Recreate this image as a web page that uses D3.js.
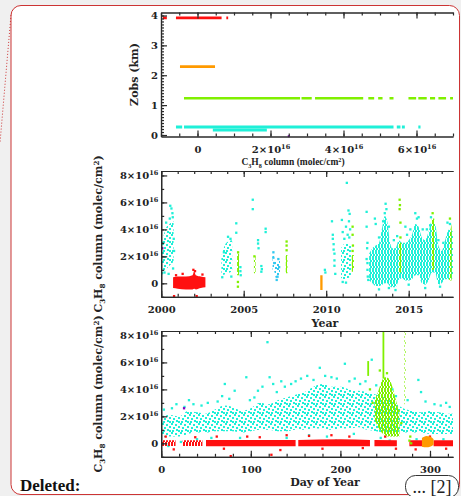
<!DOCTYPE html>
<html><head><meta charset="utf-8">
<script src="https://cdn.jsdelivr.net/npm/d3@7/dist/d3.min.js"></script>
<style>html,body{margin:0;padding:0;background:#f0f0f0;}svg{display:block;}</style>
</head><body>
<svg id="chart" width="461" height="496"></svg>
<script>
// ================= DATA (values in 1e16 molec/cm2, km, years, days) =================
// Panel 1 : rows of observations  [zobs km, column start, column end]
const p1Red    = [[3.92,-0.95,-0.84],[3.92,-0.59,0.66],[3.92,0.79,0.84]];
const p1Orange = [[2.29,-0.48,0.48]];
const p1Green  = [[1.23,-0.37,2.81],[1.23,2.85,3.13],[1.23,3.22,4.54],[1.23,4.68,4.84],[1.23,4.95,5.07],
                  [1.23,5.26,5.37],[1.23,5.78,5.99],[1.23,6.05,6.28],[1.23,6.37,6.51],[1.23,6.60,6.81],[1.23,6.92,7.0]];
const p1Cyan   = [[0.27,-0.59,-0.42],[0.27,-0.37,5.37],[0.17,0.42,1.9],[0.27,5.46,5.56],[0.27,5.6,5.68],[0.27,6.05,6.11]];
const p1Purple = [[2.5,-0.04]];   // [column, zobs]
const p1YTicks = [0,1,2,3,4];
const p1XTicks = [0,2,4,6];

// Panel 2 : column vs year.  clouds = [year, low, high], points = [year, value]
const p2RedCloud = [[2000.72,-0.35,0.45],[2001.0,-0.4,0.5],[2001.5,-0.45,0.5],[2001.9,-0.45,0.6],[2002.0,-0.4,0.9],[2002.1,-0.45,0.6],[2002.4,-0.35,0.5],[2002.68,-0.3,0.45]];
const p2RedPts = [[2000.78,-0.95],[2002.15,-0.95],[2001.95,1.0],[2002.05,0.9],[2001.3,0.7],[2000.9,0.6],[2002.5,0.65]];
const p2CyanClouds = [
  [[2000.0,0.9,2.6],[2000.25,1.0,4.0],[2000.5,1.3,4.4],[2000.75,1.6,4.6]],
  [[2003.65,0.6,2.0],[2003.95,0.7,3.0],[2004.3,0.9,3.2]],
  [[2010.9,0.4,2.6],[2011.2,0.3,3.0],[2011.5,0.6,2.8]],
  [[2012.6,0.2,2.2],[2012.8,0.0,2.6],[2013.0,-0.2,2.8],[2013.2,-0.2,3.0],[2013.4,-0.1,4.2],[2013.55,0.0,5.0],[2013.7,0.0,4.6],
   [2013.85,-0.2,3.2],[2014.0,-0.3,2.6],[2014.2,-0.3,2.6],[2014.4,0.2,3.2],[2014.6,0.4,3.0],[2014.8,0.2,3.0],[2015.0,0.2,3.2],
   [2015.2,0.3,3.6],[2015.4,0.6,4.4],[2015.6,0.6,4.2],[2015.8,0.0,3.4],[2016.0,-0.1,3.2],[2016.2,0.2,3.8],[2016.4,0.8,4.6],
   [2016.6,0.8,4.4],[2016.8,-0.1,2.8],[2017.0,0.0,2.4],[2017.2,0.3,3.2],[2017.45,0.3,4.0],[2017.7,0.4,3.8]]
];
const p2CyanPts = [[2000.05,0.75],[2000.12,3.0],[2000.2,0.8],[2000.3,4.5],[2000.45,0.7],[2000.52,4.8],[2000.55,5.75],[2000.62,5.55],
  [2000.68,5.2],[2000.7,4.9],[2000.72,1.1],[2000.78,2.4],[2000.76,3.3],
  [2003.7,0.45],[2003.8,2.3],[2004.05,3.45],[2004.2,3.3],[2004.25,0.5],[2004.55,4.45],[2004.55,3.75],[2004.8,1.2],[2004.8,0.9],[2004.82,0.6],
  [2005.55,6.2],[2005.55,5.5],[2005.87,3.2],[2005.87,2.95],[2005.9,2.6],[2006.07,1.28],[2006.07,0.86],[2006.1,1.05],[2006.33,4.05],[2006.33,3.8],
  [2009.92,1.0],[2009.95,0.8],
  [2010.35,4.6],[2010.4,3.6],[2010.4,3.3],[2010.45,2.9],[2010.45,2.5],[2010.5,2.2],[2010.5,1.7],[2010.5,1.3],[2010.55,0.7],
  [2010.95,4.7],[2011.0,3.8],[2011.1,3.3],[2011.2,4.2],[2011.25,7.45],[2011.3,3.6],[2011.35,5.4],[2011.42,5.15],[2011.45,4.0],[2011.4,3.4],
  [2011.0,0.1],[2011.2,0.05],[2011.38,4.6],
  [2012.45,5.3],[2012.45,4.2],[2012.5,3.0],[2012.48,2.6],[2012.45,1.8],[2012.5,1.5],[2012.5,1.0],[2012.52,0.5],[2012.55,0.25],
  [2012.95,4.8],[2013.0,4.4],[2013.2,3.4],[2013.2,-0.45],[2013.45,4.6],[2013.55,5.2],[2013.6,5.9],[2013.65,5.5],[2013.8,4.2],[2013.8,-0.35],
  [2014.1,3.2],[2014.2,-0.5],[2014.3,3.5],[2014.8,4.2],[2014.9,3.6],[2015.0,-0.1],[2015.1,4.0],[2015.4,5.2],[2015.5,4.8],[2015.6,4.9],
  [2015.85,4.0],[2016.0,-0.35],[2016.1,4.0],[2016.3,4.3],[2016.35,4.9],[2016.8,3.2],[2016.9,-0.25],[2017.1,3.0],[2017.35,4.5],[2017.5,4.4]];
const p2BlueCloud = [[2006.75,1.0,2.1],[2006.85,0.9,2.0],[2006.95,0.4,1.6],[2007.2,0.5,1.7]];
const p2BluePts = [[2006.8,2.3],[2006.8,1.9],[2006.85,1.5],[2007.0,0.25],[2007.05,0.5],[2007.1,1.8],[2007.15,1.2]];
const p2GreenClouds = [
  [[2004.6,0.6,2.2],[2004.72,0.6,2.2]], [[2005.62,0.75,2.0],[2005.72,0.75,2.0]], [[2007.55,0.75,2.1],[2007.65,0.75,2.1]],
  [[2011.55,0.86,2.1],[2011.68,0.86,2.1]], [[2014.42,0.8,3.0],[2014.55,0.8,3.0]], [[2016.4,1.0,4.8],[2016.55,1.0,4.8]],
  [[2017.45,0.2,3.5],[2017.6,0.2,4.4]]];
const p2GreenPts = [[2004.65,0.1],[2004.65,-0.25],[2004.66,2.3],[2005.65,2.0],[2007.6,3.1],[2007.6,2.8],[2007.6,2.45],[2011.6,4.2],
  [2011.6,3.6],[2011.62,2.8],[2011.6,2.4],[2014.45,6.2],[2014.47,5.8],[2014.45,5.5],[2014.5,4.5],[2014.5,3.4],[2016.45,5.2],[2017.5,4.8]];
const p2OrangeCloud = [[2009.64,-0.5,0.6],[2009.78,-0.5,0.6]];
const p2PurplePts = [[2000.07,2.6]];
const yearTicks = [2000,2005,2010,2015];
const colTicks = [0,2,4,6,8];

// Panel 3 : column vs day of year.  clouds = [day, low, high], points = [day, value]
const p3CyanCloud = [[0,0.4,2.0],[10,0.5,2.1],[20,0.5,2.0],[30,0.7,2.4],[40,0.8,2.3],[50,0.8,2.2],[60,0.9,2.5],[70,0.9,2.8],
  [80,0.9,2.7],[90,0.8,2.4],[100,0.9,2.6],[110,1.0,3.0],[120,1.0,2.9],[130,0.9,3.2],[140,0.9,3.4],[150,1.0,3.6],[160,1.0,3.8],
  [170,1.1,4.2],[180,1.1,4.4],[190,1.0,4.2],[200,1.1,4.2],[210,1.1,4.0],[220,1.2,3.9],[230,1.0,3.8],[240,0.9,3.6],[250,0.8,3.4],
  [260,0.8,3.0],[270,0.8,2.6],[280,0.8,2.4],[290,0.8,2.3],[300,0.7,2.4],[310,0.7,2.3],[320,0.7,2.2],[326,0.7,2.2]];
const p3CyanPts = [[3,2.5],[8,-0.2],[12,2.6],[17,2.9],[22,0.1],[26,2.7],[31,3.2],[36,2.9],[40,0.3],[45,2.8],[52,3.0],[56,0.4],
  [63,3.1],[68,3.5],[71,4.4],[76,3.3],[82,3.9],[88,0.4],[95,4.9],[99,3.2],[104,3.4],[108,3.9],[113,4.2],[118.6,7.5],[121,4.9],
  [125,4.4],[129,3.8],[134,4.6],[138,4.2],[145,4.4],[150,4.6],[156,4.8],[163,5.0],[170,4.7],[177,5.6],[183,5.0],[190,4.9],
  [196,4.8],[205,5.9],[210,4.6],[216,4.8],[222,4.4],[228,4.6],[235,6.2],[240,4.3],[258,4.0],[262,3.5],[275,3.2],[287,4.7],
  [290,3.8],[295,3.1],[305,2.9],[312,2.8],[318,3.0],[322,2.7],[140,0.4],[165,0.6],[185,0.5],[215,0.7],[245,0.4],[255,0.2],
  [285,0.3],[300,0.2],[315,0.3],[175,-0.1],[195,0.2]];
const p3RedBands = [
  [[0,-0.2,0.22],[16,-0.2,0.22]], [[24,-0.2,0.22],[46,-0.2,0.22]], [[50,-0.22,0.25],[100,-0.22,0.25],[150,-0.22,0.25]],
  [[153,-0.22,0.25],[200,-0.22,0.3],[233,-0.22,0.25]], [[238,-0.22,0.25],[263,-0.22,0.22]], [[277,-0.22,0.22],[296,-0.22,0.22]],
  [[304,-0.22,0.22],[326,-0.22,0.22]]];
const p3RedPts = [[77.6,-0.95],[123,-0.85],[5,0.5],[14,-0.45],[38,0.45],[62,0.5],[96,0.5],[140,0.6],[165,0.55],[190,0.6],
  [210,0.5],[250,0.5],[284,-0.45],[300,0.5],[318,-0.4],[262,-0.4],[133,-0.5],[70,-0.4],[110,0.45],[180,-0.4],[225,-0.35]];
const p3GreenCloud = [[238,1.8,3.2],[242,1.2,3.8],[246,0.8,4.6],[250,0.6,4.9],[254,0.5,4.8],[258,0.5,4.2],[262,0.5,3.2],[266,0.5,2.2]];
const p3GreenColumns = [[247,249,4.8,8.4],[230,232,5.0,6.1]];
const p3GreenDotted = [[271.5,272.8,2.9,8.4]];
const p3GreenPts = [[278,0.5],[277,0.2],[279,0.0],[236,3.0],[233,4.0],[265,2.4],[268,1.5],[244,5.4],[252,5.2]];
const p3OrangeCloud = [[291,-0.25,0.4],[296,-0.3,0.55],[300,-0.25,0.5],[304,-0.1,0.3]];
const p3PurplePts = [[25.5,2.6]];
const dayTicks = [0,100,200,300];

// ================= STYLE =================
const C = {red:'#ff1010', orange:'#ff9a00', green:'#80f000', cyan:'#1ff0d8', blue:'#30c8f0', purple:'#8a00c8', axis:'#2a2a2a'};
const SERIF = "'DejaVu Serif', serif";
const svg = d3.select('#chart');
const defs = svg.append('defs');
const tiles = {
  sparse: {size: 9, dots: [[0,0],[4,1],[7,3],[2,4],[5,6],[1,7],[7,7]]},
  dense:  {size: 6, dots: [[0,0],[3,0],[1,2],[4,2],[0,4],[3,4]]}
};
Object.entries(C).forEach(([k, col]) => Object.entries(tiles).forEach(([tn, t]) => {
  const p = defs.append('pattern').attr('id', `pat-${tn}-${k}`).attr('width', t.size).attr('height', t.size).attr('patternUnits', 'userSpaceOnUse');
  t.dots.forEach(([a, b]) => p.append('rect').attr('x', a).attr('y', b).attr('width', 2).attr('height', 2).attr('fill', col));
}));
const pat = (t, k) => `url(#pat-${t}-${k})`;

// ---------- frame ----------
svg.append('rect').attr('width',461).attr('height',496).attr('fill','#f0f0f0');
svg.append('rect').attr('x',11).attr('y',5.5).attr('width',448.5).attr('height',489).attr('rx',10)
   .attr('fill','#fff').attr('stroke','#cc3434').attr('stroke-width',1);
svg.append('line').attr('x1',11).attr('y1',15).attr('x2',0).attr('y2',143)
   .attr('stroke','#cc3434').attr('stroke-dasharray','1,2').attr('stroke-width',1);

// ---------- helpers ----------
let clipN = 0;
function makePanel(xd, xr, yd, yr) {
  const x = d3.scaleLinear().domain(xd).range(xr);
  const y = d3.scaleLinear().domain(yd).range(yr);
  const id = 'clip' + (clipN++);
  defs.append('clipPath').attr('id', id).append('rect')
    .attr('x', xr[0]).attr('y', yr[1] - 2).attr('width', xr[1]-xr[0]).attr('height', yr[0]-yr[1] + 4);
  const g = svg.append('g');
  const plot = g.append('g').attr('clip-path', `url(#${id})`);
  return {x, y, g, plot};
}
function cloud(P, data, fill) {
  const a = d3.area().x(d => P.x(d[0])).y0(d => P.y(d[1])).y1(d => P.y(d[2])).curve(d3.curveMonotoneX);
  P.plot.append('path').datum(data).attr('d', a).attr('fill', fill);
}
function pts(P, data, col, s=2.3) {
  P.plot.append('g').selectAll('rect').data(data).join('rect')
    .attr('x', d => P.x(d[0]) - s/2).attr('y', d => P.y(d[1]) - s/2).attr('width', s).attr('height', s).attr('fill', col);
}
function boxes(P, data, fill) {
  P.plot.append('g').selectAll('rect').data(data).join('rect')
    .attr('x', d => P.x(d[0])).attr('width', d => P.x(d[1]) - P.x(d[0]))
    .attr('y', d => P.y(Math.min(d[3], P.y.domain()[1]))).attr('height', d => P.y(d[2]) - P.y(Math.min(d[3], P.y.domain()[1]))).attr('fill', fill);
}
function sci(sel) {
  sel.each(function(d) {
    const t = d3.select(this);
    if (d === 0) { t.text('0'); return; }
    t.text(null);
    t.append('tspan').text(d + '×10');
    t.append('tspan').attr('dy', -4).attr('font-size', 6.5).text('16');
  });
}
function axisGroup(parent, axis) {
  const g = parent.append('g').call(axis);
  g.attr('font-family', SERIF).attr('font-size', 10).attr('font-weight', 'bold');
  g.selectAll('path,line').attr('stroke', C.axis).attr('stroke-width', 1.2);
  g.selectAll('text').attr('fill', '#222');
  return g;
}
function axes(P, o) {
  const [x0, x1] = P.x.range(), [yb, yt] = P.y.range();
  const b = P.g.append('g').attr('transform', `translate(0,${yb})`);
  axisGroup(b, d3.axisBottom(P.x).tickValues(o.xMinor).tickSize(-3).tickSizeOuter(0).tickFormat(''));
  const bm = axisGroup(b, d3.axisBottom(P.x).tickValues(o.xMajor).tickSize(-6).tickSizeOuter(0).tickPadding(9).tickFormat(d3.format('d')));
  if (o.xSci) bm.selectAll('.tick text').call(sci);
  const t = P.g.append('g').attr('transform', `translate(0,${yt})`);
  axisGroup(t, d3.axisTop(P.x).tickValues(o.xMinor).tickSize(-3).tickSizeOuter(0).tickFormat(''));
  axisGroup(t, d3.axisTop(P.x).tickValues(o.xMajor).tickSize(-6).tickSizeOuter(0).tickFormat(''));
  const l = P.g.append('g').attr('transform', `translate(${x0},0)`);
  axisGroup(l, d3.axisLeft(P.y).tickValues(o.yMinor).tickSize(-3).tickSizeOuter(0).tickFormat(''));
  const lm = axisGroup(l, d3.axisLeft(P.y).tickValues(o.yMajor).tickSize(-6).tickSizeOuter(0).tickPadding(3).tickFormat(d3.format('d')));
  if (o.ySci) lm.selectAll('.tick text').call(sci);
}
function chemTitle(sel, size) {
  sel.append('tspan').text('C');
  sel.append('tspan').attr('dy', 2.5).attr('font-size', size*0.65).text('3');
  sel.append('tspan').attr('dy', -2.5).text('H');
  sel.append('tspan').attr('dy', 2.5).attr('font-size', size*0.65).text('8');
  sel.append('tspan').attr('dy', -2.5).text(' column (molec/cm');
  sel.append('tspan').attr('dy', -3.5).attr('font-size', size*0.65).text('2');
  sel.append('tspan').attr('dy', 3.5).text(')');
}
function title(x, y, rot, size, weight, family) {
  return svg.append('text').attr('transform', `translate(${x},${y}) rotate(${rot})`)
    .attr('text-anchor', 'middle').attr('font-family', family || SERIF).attr('font-size', size)
    .attr('font-weight', weight).attr('fill', '#222');
}

// ================= PANEL 1 =================
const P1 = makePanel([-1, 7], [161, 453], [-0.05, 4.1], [136.5, 12.5]);
function rows(data, col, w) {
  P1.plot.append('g').selectAll('line').data(data).join('line')
    .attr('x1', d => P1.x(d[1])).attr('x2', d => P1.x(d[2])).attr('y1', d => P1.y(d[0])).attr('y2', d => P1.y(d[0]))
    .attr('stroke', col).attr('stroke-width', w);
}
rows(p1Cyan, C.cyan, 3); rows(p1Green, C.green, 2.6); rows(p1Orange, C.orange, 2.6); rows(p1Red, C.red, 2.8);
pts(P1, p1Purple, C.purple, 2);
axes(P1, {xMinor: d3.range(-1, 7.01, 0.5), xMajor: p1XTicks, xSci: true,
          yMinor: d3.range(0, 4.05, 0.1), yMajor: p1YTicks});
title(138, 74.5, -90, 11, 'bold').text('Zobs (km)');
title(293, 165, 0, 9.5, 'bold', "'Liberation Serif', serif").call(chemTitle, 9.5);

// ================= PANEL 2 =================
const P2 = makePanel([2000, 2000 + (453 - 161.2) / 16.5], [161.2, 453], [-1, 8.33], [296.8, 171]);
p2CyanClouds.forEach((c, i) => cloud(P2, c, i === 3 ? pat('dense', 'cyan') : pat('sparse', 'cyan')));
pts(P2, p2CyanPts, C.cyan);
cloud(P2, p2BlueCloud, pat('sparse', 'blue')); pts(P2, p2BluePts, C.blue);
p2GreenClouds.forEach(c => cloud(P2, c, pat('dense', 'green'))); pts(P2, p2GreenPts, C.green);
cloud(P2, p2OrangeCloud, C.orange);
cloud(P2, p2RedCloud, C.red); pts(P2, p2RedPts, C.red);
pts(P2, p2PurplePts, C.purple);
axes(P2, {xMinor: d3.range(2000, 2018, 1), xMajor: yearTicks, yMinor: d3.range(-1, 8.1, 1), yMajor: colTicks, ySci: true});
title(102, 234, -90, 11, 'bold').call(chemTitle, 11);
title(325, 327, 0, 11, 'bold').text('Year');

// ================= PANEL 3 =================
const P3 = makePanel([0, (453 - 161.2) / 0.896], [161.2, 453], [-1, 8.33], [456.8, 331]);
cloud(P3, p3CyanCloud, pat('sparse', 'cyan')); pts(P3, p3CyanPts, C.cyan);
p3RedBands.forEach((c, i) => cloud(P3, c, i < 2 ? pat('dense', 'red') : C.red)); pts(P3, p3RedPts, C.red);
cloud(P3, p3GreenCloud, pat('dense', 'green')); boxes(P3, p3GreenColumns, C.green); boxes(P3, p3GreenDotted, pat('sparse', 'green'));
pts(P3, p3GreenPts, C.green);
cloud(P3, p3OrangeCloud, C.orange);
pts(P3, p3PurplePts, C.purple);
axes(P3, {xMinor: d3.range(0, 326, 20), xMajor: dayTicks, yMinor: d3.range(-1, 8.1, 1), yMajor: colTicks, ySci: true});
title(102, 394, -90, 11, 'bold').call(chemTitle, 11);
title(325, 486, 0, 11, 'bold').text('Day of Year');

// ---------- document decorations ----------
svg.append('text').attr('x', 20).attr('y', 490.5).attr('font-family', "'Liberation Serif', serif")
   .attr('font-size', 17).attr('font-weight', 'bold').attr('fill', '#111').text('Deleted:');
svg.append('rect').attr('x', 405.5).attr('y', 475.5).attr('width', 53).attr('height', 22).attr('rx', 10)
   .attr('fill', '#fff').attr('stroke', '#333').attr('stroke-width', 1);
svg.append('text').attr('x', 432).attr('y', 493).attr('text-anchor', 'middle').attr('font-family', "'Liberation Serif', serif")
   .attr('font-size', 18).attr('fill', '#222').text('... [2]');
</script>
</body></html>
